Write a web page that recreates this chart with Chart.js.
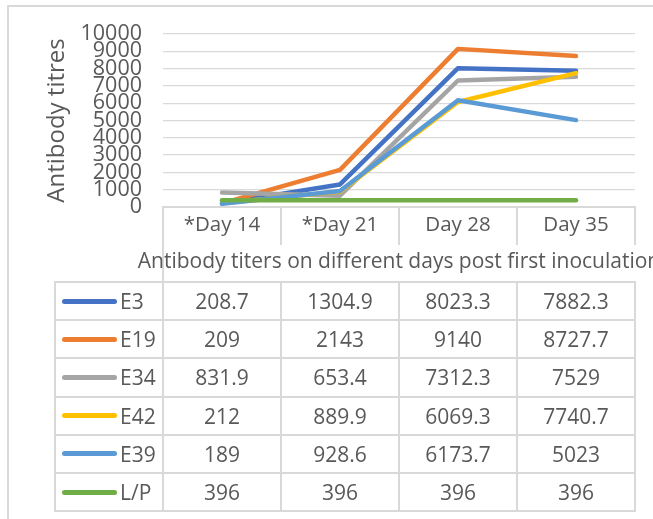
<!DOCTYPE html>
<html><head><meta charset="utf-8">
<script src="https://cdn.jsdelivr.net/npm/chart.js@4/dist/chart.umd.min.js"></script>
<style>
html,body{margin:0;padding:0;background:#fff;overflow:hidden;}
#wrap{position:relative;width:653px;height:519px;overflow:hidden;font-family:'Open Sans',sans-serif;color:#595959;background:#fff;}
#frame{position:absolute;left:7px;top:5px;width:700px;height:600px;border-left:2px solid #d9d9d9;border-top:2px solid #d9d9d9;}
#c{position:absolute;left:0;top:0;}
#tbl{position:absolute;left:0;top:0;}
.cell{position:absolute;box-sizing:border-box;border:2px solid #d9d9d9;font-size:21px;text-align:center;white-space:nowrap;}
.sw{position:absolute;height:5px;border-radius:3px;}
.lg{position:absolute;}
</style></head>
<body>
<div id="wrap">
<div id="frame"></div>
<canvas id="c" width="653" height="519"></canvas>
<div id="tbl"></div>
</div>
<script>
const categories = ['*Day 14', '*Day 21', 'Day 28', 'Day 35'];
const seriesNames = ['E3', 'E19', 'E34', 'E42', 'E39', 'L/P'];
const E3  = [208.7, 1304.9, 8023.3, 7882.3];
const E19 = [209, 2143, 9140, 8727.7];
const E34 = [831.9, 653.4, 7312.3, 7529];
const E42 = [212, 889.9, 6069.3, 7740.7];
const E39 = [189, 928.6, 6173.7, 5023];
const LP  = [396, 396, 396, 396];
const yTicks = [0, 1000, 2000, 3000, 4000, 5000, 6000, 7000, 8000, 9000, 10000];
const xTitle = 'Antibody titers on different days post first inoculation';
const yTitle = 'Antibody titres';

const seriesValues = [E3, E19, E34, E42, E39, LP];
const colors = ['#4472C4', '#ED7D31', '#A5A5A5', '#FFC000', '#5B9BD5', '#70AD47'];
const textColor = '#595959';
const gridColor = '#d9d9d9';
const FONT = 'Open Sans';

const extras = {
  id: 'extras',
  afterDraw(chart) {
    const {ctx, chartArea, scales: {x}} = chart;
    ctx.save();
    ctx.strokeStyle = gridColor; ctx.lineWidth = 2;
    ctx.beginPath();
    ctx.moveTo(chartArea.left, chartArea.bottom);
    ctx.lineTo(chartArea.left, x.bottom);
    ctx.stroke();
    ctx.fillStyle = textColor;
    ctx.font = '21px "' + FONT + '"';
    ctx.textAlign = 'center';
    ctx.textBaseline = 'middle';
    ctx.fillText(xTitle, (chartArea.left + chartArea.right) / 2, x.bottom - 20);
    ctx.restore();
  }
};

function build() {
  const n = seriesNames.length;
  const chart = new Chart(document.getElementById('c'), {
    type: 'line',
    data: {
      labels: categories,
      datasets: seriesValues.map((vals, i) => ({
        label: seriesNames[i],
        data: vals,
        borderColor: colors[i],
        backgroundColor: colors[i],
        borderWidth: 4.5,
        borderCapStyle: 'round',
        borderJoinStyle: 'round',
        pointRadius: 0,
        tension: 0,
        fill: false,
        order: n - i
      }))
    },
    options: {
      responsive: false,
      animation: false,
      layout: {padding: {left: 40, top: 34, right: 18, bottom: 237}},
      plugins: {legend: {display: false}, tooltip: {enabled: false}},
      scales: {
        x: {
          offset: true,
          grid: {offset: true, drawOnChartArea: false, drawTicks: true, tickLength: 38, color: gridColor, lineWidth: 2},
          border: {display: true, color: gridColor, width: 2},
          ticks: {padding: -32, color: textColor, font: {family: FONT, size: 20.5}, maxRotation: 0, autoSkip: false},
          afterFit: s => { s.height = 75; }
        },
        y: {
          min: 0, max: 10000,
          afterBuildTicks: s => { s.ticks = yTicks.map(v => ({value: v})); },
          grid: {color: gridColor, lineWidth: 1.25, drawTicks: false},
          border: {display: false},
          ticks: {padding: 21, autoSkip: false, color: textColor, font: {family: FONT, size: 21.5, lineHeight: 1},
                  callback: v => String(v)},
          title: {display: true, text: yTitle, color: textColor, font: {family: FONT, size: 24}, padding: {top: 3, bottom: 0}},
          afterFit: s => { s.width = 123; }
        }
      }
    },
    plugins: [extras]
  });

  // data table aligned to the category scale
  const x = chart.scales.x;
  const ca = chart.chartArea;
  const band = (ca.right - ca.left) / categories.length;
  const edges = [55, ca.left];
  for (let j = 0; j < categories.length; j++) edges.push(x.getPixelForValue(j) + band / 2);
  const top0 = x.bottom;
  const rowH = 38.2;
  const tbl = document.getElementById('tbl');
  seriesNames.forEach((name, r) => {
    const t = top0 + r * rowH;
    for (let c = 0; c < edges.length - 1; c++) {
      const d = document.createElement('div');
      d.className = 'cell';
      d.style.left = (edges[c] - 1) + 'px';
      d.style.top = (t - 1) + 'px';
      d.style.width = (edges[c + 1] - edges[c] + 2) + 'px';
      d.style.height = (rowH + 2) + 'px';
      d.style.lineHeight = (rowH - 2) + 'px';
      if (c === 0) {
        const sw = document.createElement('div');
        sw.className = 'sw';
        sw.style.background = colors[r];
        sw.style.left = '6px'; sw.style.width = '55px';
        sw.style.top = ((rowH - 5) / 2 - 1) + 'px';
        d.appendChild(sw);
        const lg = document.createElement('div');
        lg.className = 'lg';
        lg.style.left = '64px'; lg.style.top = '0px';
        lg.textContent = name;
        d.appendChild(lg);
      } else {
        d.textContent = String(seriesValues[r][c - 1]);
      }
      tbl.appendChild(d);
    }
  });
}

Promise.all([document.fonts.load('20px "Open Sans"'), document.fonts.load('21px "Open Sans"')]).then(build, build);
</script>
</body></html>
